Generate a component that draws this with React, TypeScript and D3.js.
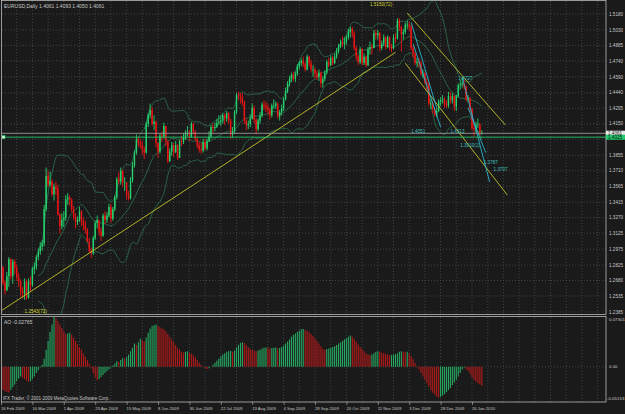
import React from "react";
import * as d3 from "d3";

// EURUSD daily, 16 Feb 2009 .. 27 Jan 2010
const dateLabels = [
  "16 Feb 2009", "10 Mar 2009", "1 Apr 2009", "23 Apr 2009", "15 May 2009",
  "8 Jun 2009", "30 Jun 2009", "22 Jul 2009", "13 Aug 2009", "4 Sep 2009",
  "28 Sep 2009", "20 Oct 2009", "11 Nov 2009", "3 Dec 2009", "28 Dec 2009",
  "20 Jan 2010"
];

const priceLabels = [
  1.518, 1.503, 1.4885, 1.474, 1.459, 1.444, 1.4295, 1.415, 1.4005, 1.3855,
  1.371, 1.3565, 1.3415, 1.327, 1.3125, 1.2975, 1.2825, 1.268, 1.2535, 1.2385
];

const firstOpen = 1.285;

const closes = [
  1.2810, 1.2660, 1.2590, 1.2720, 1.2880, 1.2720, 1.2860, 1.2800, 1.2710, 1.2670, 1.2580, 1.2560, 1.2670, 1.2520, 1.2670, 1.2640,
  1.2790, 1.2810, 1.2900, 1.2950, 1.3000, 1.3030, 1.3350, 1.3660, 1.3580, 1.3610, 1.3490, 1.3560, 1.3540, 1.3300, 1.3190, 1.3250,
  1.3270, 1.3440, 1.3460, 1.3440, 1.3350, 1.3280, 1.3230, 1.3250, 1.3330, 1.3230, 1.3200, 1.3160, 1.3050, 1.2960, 1.2940, 1.3080,
  1.3220, 1.3250, 1.3140, 1.3100, 1.3290, 1.3250, 1.3290, 1.3370, 1.3260, 1.3350, 1.3460, 1.3630, 1.3610, 1.3710, 1.3600, 1.3600,
  1.3480, 1.3450, 1.3620, 1.3760, 1.3880, 1.4000, 1.3970, 1.3950, 1.3910, 1.3880, 1.4150, 1.4230, 1.4280, 1.4150, 1.4170, 1.3970,
  1.3890, 1.4040, 1.4030, 1.4130, 1.3990, 1.3800, 1.3890, 1.3950, 1.3880, 1.3950, 1.3830, 1.3990, 1.3980, 1.4030, 1.4050, 1.4070,
  1.4030, 1.4150, 1.4080, 1.4010, 1.3950, 1.3910, 1.3900, 1.3980, 1.3920, 1.3990, 1.4030, 1.4120, 1.4110, 1.4120, 1.4160, 1.4170,
  1.4180, 1.4230, 1.4200, 1.4250, 1.4180, 1.4050, 1.4080, 1.4260, 1.4420, 1.4410, 1.4400, 1.4350, 1.4180, 1.4140, 1.4150, 1.4200,
  1.4300, 1.4190, 1.4100, 1.4180, 1.4230, 1.4330, 1.4320, 1.4300, 1.4280, 1.4230, 1.4320, 1.4320, 1.4340, 1.4220, 1.4260, 1.4300,
  1.4380, 1.4450, 1.4530, 1.4570, 1.4610, 1.4570, 1.4620, 1.4690, 1.4720, 1.4740, 1.4710, 1.4660, 1.4780, 1.4720, 1.4660, 1.4660,
  1.4620, 1.4590, 1.4630, 1.4530, 1.4570, 1.4630, 1.4730, 1.4700, 1.4770, 1.4720, 1.4780, 1.4830, 1.4880, 1.4910, 1.4900, 1.4920,
  1.4960, 1.5010, 1.5040, 1.5000, 1.4860, 1.4780, 1.4730, 1.4850, 1.4720, 1.4780, 1.4700, 1.4850, 1.4870, 1.4860, 1.5000, 1.4980,
  1.5000, 1.4860, 1.4900, 1.4960, 1.4870, 1.4960, 1.4870, 1.4860, 1.4960, 1.4950, 1.5120, 1.5060, 1.4990, 1.5010, 1.5080, 1.5080,
  1.5060, 1.4860, 1.4810, 1.4720, 1.4730, 1.4720, 1.4620, 1.4620, 1.4540, 1.4530, 1.4340, 1.4340, 1.4290, 1.4230, 1.4270, 1.4360,
  1.4370, 1.4380, 1.4330, 1.4320, 1.4410, 1.4370, 1.4410, 1.4310, 1.4410, 1.4510, 1.4520, 1.4530, 1.4500, 1.4380, 1.4390, 1.4290,
  1.4110, 1.4100, 1.4140, 1.4150, 1.4061, 1.4061
];

const highs = [
  1.2870, 1.2810, 1.2680, 1.2760, 1.2900, 1.2890, 1.2880, 1.2880, 1.2830, 1.2750, 1.2690, 1.2620, 1.2700, 1.2690, 1.2700, 1.2720,
  1.2810, 1.2850, 1.2920, 1.2980, 1.3040, 1.3060, 1.3390, 1.3740, 1.3710, 1.3700, 1.3630, 1.3590, 1.3610, 1.3580, 1.3310, 1.3310,
  1.3330, 1.3480, 1.3500, 1.3480, 1.3450, 1.3380, 1.3310, 1.3280, 1.3370, 1.3340, 1.3270, 1.3240, 1.3170, 1.3080, 1.2990, 1.3100,
  1.3240, 1.3290, 1.3250, 1.3180, 1.3310, 1.3330, 1.3320, 1.3400, 1.3400, 1.3370, 1.3480, 1.3650, 1.3700, 1.3740, 1.3720, 1.3650,
  1.3600, 1.3520, 1.3650, 1.3790, 1.3900, 1.4050, 1.4030, 1.4010, 1.3990, 1.3940, 1.4170, 1.4250, 1.4340, 1.4310, 1.4230, 1.4180,
  1.3970, 1.4060, 1.4080, 1.4160, 1.4130, 1.3990, 1.3920, 1.3980, 1.3970, 1.3990, 1.3960, 1.4000, 1.4040, 1.4060, 1.4090, 1.4130,
  1.4090, 1.4170, 1.4160, 1.4090, 1.4030, 1.3980, 1.3970, 1.4010, 1.4010, 1.4010, 1.4080, 1.4140, 1.4150, 1.4160, 1.4200, 1.4230,
  1.4230, 1.4250, 1.4250, 1.4270, 1.4260, 1.4200, 1.4120, 1.4280, 1.4440, 1.4450, 1.4440, 1.4440, 1.4370, 1.4200, 1.4180, 1.4240,
  1.4340, 1.4320, 1.4200, 1.4200, 1.4260, 1.4350, 1.4370, 1.4360, 1.4340, 1.4300, 1.4340, 1.4380, 1.4360, 1.4350, 1.4280, 1.4330,
  1.4400, 1.4490, 1.4550, 1.4600, 1.4630, 1.4640, 1.4640, 1.4710, 1.4740, 1.4760, 1.4780, 1.4730, 1.4800, 1.4790, 1.4750, 1.4700,
  1.4680, 1.4650, 1.4660, 1.4640, 1.4600, 1.4650, 1.4750, 1.4770, 1.4790, 1.4790, 1.4810, 1.4860, 1.4900, 1.4940, 1.4970, 1.4960,
  1.4980, 1.5040, 1.5060, 1.5060, 1.5020, 1.4880, 1.4800, 1.4870, 1.4860, 1.4810, 1.4790, 1.4870, 1.4920, 1.4900, 1.5030, 1.5030,
  1.5030, 1.5010, 1.4930, 1.4990, 1.4970, 1.4980, 1.4970, 1.4900, 1.4990, 1.5000, 1.5140, 1.5140, 1.5070, 1.5040, 1.5100, 1.5120,
  1.5110, 1.5080, 1.4880, 1.4830, 1.4770, 1.4770, 1.4740, 1.4660, 1.4640, 1.4580, 1.4540, 1.4380, 1.4360, 1.4300, 1.4300, 1.4380,
  1.4400, 1.4420, 1.4400, 1.4370, 1.4450, 1.4450, 1.4440, 1.4420, 1.4420, 1.4530, 1.4560, 1.4580, 1.4560, 1.4510, 1.4420, 1.4400,
  1.4300, 1.4160, 1.4170, 1.4200, 1.4150, 1.4093
];

const lows = [
  1.2790, 1.2640, 1.2550, 1.2580, 1.2620, 1.2690, 1.2650, 1.2740, 1.2680, 1.2620, 1.2530, 1.2510, 1.2500, 1.2500, 1.2510, 1.2580,
  1.2620, 1.2740, 1.2780, 1.2870, 1.2920, 1.2960, 1.3000, 1.3330, 1.3560, 1.3560, 1.3470, 1.3430, 1.3480, 1.3290, 1.3120, 1.3160,
  1.3180, 1.3240, 1.3390, 1.3380, 1.3320, 1.3250, 1.3170, 1.3200, 1.3230, 1.3190, 1.3150, 1.3120, 1.3040, 1.2940, 1.2890, 1.2920,
  1.3060, 1.3170, 1.3100, 1.3050, 1.3090, 1.3210, 1.3220, 1.3270, 1.3220, 1.3240, 1.3330, 1.3440, 1.3580, 1.3580, 1.3560, 1.3520,
  1.3440, 1.3430, 1.3440, 1.3600, 1.3740, 1.3860, 1.3930, 1.3920, 1.3860, 1.3820, 1.3870, 1.4120, 1.4200, 1.4130, 1.4090, 1.3930,
  1.3830, 1.3870, 1.3980, 1.4010, 1.3940, 1.3780, 1.3790, 1.3850, 1.3840, 1.3880, 1.3810, 1.3830, 1.3940, 1.3960, 1.4000, 1.4030,
  1.3990, 1.4020, 1.4050, 1.3990, 1.3920, 1.3880, 1.3870, 1.3880, 1.3900, 1.3900, 1.3980, 1.4010, 1.4070, 1.4080, 1.4110, 1.4140,
  1.4130, 1.4150, 1.4140, 1.4170, 1.4150, 1.4010, 1.4020, 1.4060, 1.4240, 1.4370, 1.4340, 1.4320, 1.4150, 1.4090, 1.4100, 1.4120,
  1.4190, 1.4160, 1.4050, 1.4080, 1.4150, 1.4210, 1.4280, 1.4260, 1.4240, 1.4190, 1.4210, 1.4290, 1.4290, 1.4200, 1.4180, 1.4230,
  1.4270, 1.4370, 1.4440, 1.4500, 1.4540, 1.4550, 1.4540, 1.4600, 1.4660, 1.4690, 1.4680, 1.4640, 1.4650, 1.4690, 1.4630, 1.4590,
  1.4580, 1.4560, 1.4550, 1.4490, 1.4490, 1.4550, 1.4610, 1.4680, 1.4690, 1.4700, 1.4710, 1.4760, 1.4810, 1.4860, 1.4870, 1.4850,
  1.4890, 1.4940, 1.4960, 1.4960, 1.4840, 1.4750, 1.4700, 1.4710, 1.4700, 1.4700, 1.4680, 1.4690, 1.4800, 1.4800, 1.4860, 1.4940,
  1.4940, 1.4830, 1.4840, 1.4880, 1.4850, 1.4860, 1.4840, 1.4820, 1.4850, 1.4910, 1.4940, 1.5020, 1.4830, 1.4940, 1.4990, 1.5040,
  1.5020, 1.4840, 1.4770, 1.4700, 1.4680, 1.4680, 1.4600, 1.4580, 1.4520, 1.4460, 1.4320, 1.4290, 1.4250, 1.4220, 1.4210, 1.4260,
  1.4320, 1.4340, 1.4300, 1.4300, 1.4300, 1.4340, 1.4340, 1.4270, 1.4270, 1.4400, 1.4470, 1.4490, 1.4470, 1.4360, 1.4350, 1.4260,
  1.4090, 1.4030, 1.4070, 1.4110, 1.4040, 1.4050
];

// Awesome Oscillator, thousandths
const aoMilli = [
  -32, -34, -36, -37, -37.5, -34, -30, -26, -21, -17,
  -14, -16, -18, -20, -22, -21, -18, -14, -9, -5,
  -1, 3, 12, 25, 38, 51, 62, 73, 71, 67,
  62, 57, 52, 48, 49, 50, 47, 43, 38, 33,
  29, 25, 20, 15, 10, 5, -2, -9, -16, -20,
  -18, -15, -12, -9, -6, -4, -1, 2, 5, 8,
  7, 10, 13, 12, 14, 18, 23, 28, 34, 32,
  36, 41, 39, 37, 43, 50, 56, 60, 61, 62,
  60, 58, 56, 55, 52, 48, 44, 40, 36, 32,
  28, 25, 22, 21, 22, 23, 21, 19, 17, 14,
  10, 6, 3, 0, -2, -3, -2, 0, 3, 6,
  9, 12, 15, 18, 20, 22, 23, 23.5, 22, 24,
  28, 32, 35, 36, 35, 32, 29, 26, 25, 24,
  23, 24, 25, 27, 28, 28.5, 28, 27, 27.5, 28,
  28.5, 27, 27.5, 29, 31, 34, 37, 40, 44, 47,
  49, 51, 53, 55, 55.5, 54, 53, 51, 48, 45,
  42, 38, 34, 30, 26, 25, 26, 27, 28, 29,
  30, 32, 34, 36, 38, 40, 42, 44, 46, 44,
  41, 37, 33, 29, 26, 23, 20, 18, 17, 18,
  20, 22, 23, 22, 21, 20, 19, 18, 17, 17.5,
  18, 18.5, 20, 22, 23, 22, 21, 22, 20, 16,
  11, 6, 1, -4, -9, -14, -19, -24, -29, -34,
  -38, -41, -44, -45, -44, -42, -40, -37, -34, -31,
  -27, -23, -19, -14, -9, -4, -1, -3, -6, -10,
  -15, -19, -22, -24, -26, -27.65
];
const aoMax = 0.07301;
const aoMin = -0.05153;

// chart objects: [bar, price, bar, price]
const yellowLines = [
  [0, 1.2395, 201, 1.482],
  [207, 1.5189, 257, 1.4139],
  [206, 1.4719, 258, 1.3482]
];
const cyanLines = [
  [209, 1.5100, 222, 1.4300],
  [210, 1.4900, 224, 1.4120],
  [235, 1.4589, 249, 1.3604],
  [238, 1.4300, 247, 1.3880]
];
const priceNotes = [
  { bar: 188, price: 1.5255, text: "1.5150(72)", color: "#d8d830" },
  { bar: 12, price: 1.2378, text: "1.2543(72)", color: "#d8d830" },
  { bar: 233, price: 1.4560, text: "1.4727", color: "#40c0c0" },
  { bar: 209, price: 1.4060, text: "1.4051", color: "#40c0c0" },
  { bar: 229, price: 1.4062, text: "1.4313", color: "#40c0c0" },
  { bar: 234, price: 1.3935, text: "1.3910(1)", color: "#40c0c0" },
  { bar: 246, price: 1.3770, text: "1.3787", color: "#40c0c0" },
  { bar: 251, price: 1.3710, text: "1.3707", color: "#40c0c0" }
];

const BG = "#1a1a1a";
const GRID = "#4c5858";
const FRAME = "#b8b8b8";
const TXT = "#c8c8c8";
const UP = "#26d36e";
const DN = "#ee1414";
const BAND = "#2c6c4c";
const FONT = "Liberation Sans, Arial, sans-serif";

export default function App() {
  const x = d3.scaleLinear().domain([0, 240]).range([1, 472]);
  const y = d3.scaleLinear().domain([1.2385, 1.518]).range([312, 14]);
  const yAo = d3.scaleLinear().domain([aoMin, aoMax]).range([402, 317]);

  const right = 606;
  const opens = closes.map((c, i) => (i === 0 ? firstOpen : closes[i - 1]));

  // Bollinger bands 20,2
  const period = 20;
  const bands = closes
    .map((c, i) => {
      if (i < period - 1) return null;
      const w = closes.slice(i - period + 1, i + 1);
      const m = d3.mean(w) as number;
      const sd = Math.sqrt(d3.mean(w, (v) => (v - m) * (v - m)) as number);
      return { i, m, up: m + 2 * sd, lo: m - 2 * sd };
    })
    .filter((d) => d !== null) as { i: number; m: number; up: number; lo: number }[];

  const bandLine = (key: "m" | "up" | "lo") =>
    d3
      .line<{ i: number; m: number; up: number; lo: number }>()
      .x((d) => x(d.i))
      .y((d) => y(d[key]))
      .curve(d3.curveMonotoneX)(bands) as string;

  const gridXs = d3.range(0, 320, 8).map((i) => x(i)).filter((v) => v > 3 && v < right);

  const ao = aoMilli.map((v) => v / 1000);

  return (
    <div style={{ position: "absolute", left: 0, top: 0 }}>
      <svg width={625} height={414} style={{ display: "block", background: BG }}>
        <rect x={0} y={0} width={625} height={414} fill={BG} />
        <defs>
          <clipPath id="price">
            <rect x={2} y={1} width={right - 2} height={313} />
          </clipPath>
          <clipPath id="ao">
            <rect x={2} y={317} width={right - 2} height={85} />
          </clipPath>
        </defs>

        {/* grid */}
        <g stroke={GRID} strokeWidth={0.7} strokeDasharray="1 2">
          {priceLabels.map((p) => (
            <line key={"h" + p} x1={2} x2={right} y1={y(p)} y2={y(p)} />
          ))}
          {gridXs.map((gx) => (
            <line key={"v" + gx} x1={gx} x2={gx} y1={1} y2={314} />
          ))}
          {gridXs.map((gx) => (
            <line key={"va" + gx} x1={gx} x2={gx} y1={317} y2={402} />
          ))}
          <line x1={2} x2={right} y1={yAo(0)} y2={yAo(0)} />
        </g>

        <g clipPath="url(#price)">
          {/* bollinger bands */}
          <g fill="none" stroke={BAND} strokeWidth={0.9}>
            <path d={bandLine("up")} />
            <path d={bandLine("m")} />
            <path d={bandLine("lo")} />
          </g>

          {/* candles */}
          {closes.map((c, i) => {
            const o = opens[i];
            const hi = Math.max(highs[i], o, c);
            const lo = Math.min(lows[i], o, c);
            const col = c >= o ? UP : DN;
            const top = y(Math.max(o, c));
            const bot = y(Math.min(o, c));
            return (
              <g key={i}>
                <line x1={x(i)} x2={x(i)} y1={y(hi)} y2={y(lo)} stroke={col} strokeWidth={0.9} />
                <rect x={x(i) - 0.7} y={top} width={1.4} height={Math.max(0.8, bot - top)} fill={col} />
              </g>
            );
          })}

          {/* trend lines */}
          {yellowLines.map((l, k) => (
            <line key={"y" + k} x1={x(l[0])} y1={y(l[1])} x2={x(l[2])} y2={y(l[3])} stroke="#c4c42a" strokeWidth={0.9} />
          ))}
          {cyanLines.map((l, k) => (
            <line key={"c" + k} x1={x(l[0])} y1={y(l[1])} x2={x(l[2])} y2={y(l[3])} stroke="#2cb4cc" strokeWidth={0.9} />
          ))}

          {/* bid line and horizontal line */}
          <line x1={2} x2={right} y1={y(closes[closes.length - 1])} y2={y(closes[closes.length - 1])} stroke="#9a9a9a" strokeWidth={0.9} />
          <line x1={2} x2={right} y1={y(1.4025)} y2={y(1.4025)} stroke="#22c86a" strokeWidth={0.9} />
          <rect x={2} y={y(1.4025) - 1.5} width={3} height={3} fill="#d8f8e0" stroke="#22c86a" strokeWidth={0.6} />

          {priceNotes.map((n) => (
            <text key={n.text} x={x(n.bar)} y={y(n.price)} fontSize={4.6} fill={n.color} fontFamily={FONT}>
              {n.text}
            </text>
          ))}
        </g>

        {/* AO */}
        <g clipPath="url(#ao)">
          {ao.map((v, i) => {
            const col = i > 0 && v < ao[i - 1] ? "#b41a1a" : "#26a862";
            return (
              <line key={"ao" + i} x1={x(i)} x2={x(i)} y1={yAo(0)} y2={yAo(v)} stroke={col} strokeWidth={1.1} />
            );
          })}
        </g>

        {/* frames */}
        <g fill="none" stroke={FRAME} strokeWidth={0.8}>
          <rect x={1.5} y={0.5} width={right - 1.5} height={314} />
          <rect x={1.5} y={316.5} width={right - 1.5} height={85.5} />
        </g>

        {/* texts */}
        <g fontFamily={FONT} fill={TXT}>
          <text x={4} y={7.5} fontSize={5}>EURUSD,Daily  1.4061 1.4093 1.4050 1.4061</text>
          <text x={4} y={323.5} fontSize={5}>AO -0.02765</text>
          <text x={3} y={399.5} fontSize={4.5}>IFX Trader, © 2001-2009 MetaQuotes Software Corp.</text>

          {priceLabels.map((p) =>
            p === 1.4005 ? null : (
              <text key={"pl" + p} x={609} y={y(p) + 1.6} fontSize={4.6}>
                {p.toFixed(4)}
              </text>
            )
          )}
          <text x={609} y={320.5} fontSize={4.4}>{aoMax.toFixed(5)}</text>
          <text x={609} y={yAo(0) + 1.6} fontSize={4.4}>0.00</text>
          <text x={607} y={400} fontSize={4.4}>{aoMin.toFixed(5)}</text>

          {dateLabels.map((d, k) => (
            <text key={d} x={x(k * 16)} y={409.5} fontSize={4.2}>
              {d}
            </text>
          ))}
        </g>
        <g stroke={FRAME} strokeWidth={0.6}>
          {dateLabels.map((d, k) => (
            <line key={"t" + k} x1={x(k * 16) + 0.5} x2={x(k * 16) + 0.5} y1={402} y2={405} />
          ))}
        </g>

        {/* price boxes */}
        <rect x={606} y={y(1.4061) - 2.6} width={19} height={5} fill="#e8e8e8" />
        <text x={608} y={y(1.4061) + 1.6} fontSize={4.6} fill="#111" fontFamily={FONT}>1.4061</text>
        <rect x={606} y={y(1.4025) - 2.4} width={19} height={5} fill="#22c86a" />
        <text x={608} y={y(1.4025) + 1.7} fontSize={4.6} fill="#111" fontFamily={FONT}>1.4025</text>
      </svg>
    </div>
  );
}
